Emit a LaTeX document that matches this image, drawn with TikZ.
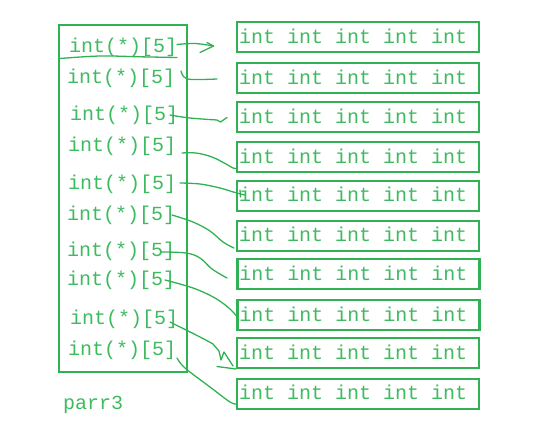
\documentclass[tikz,border=0pt]{standalone}
\usepackage{fontspec}
\setmonofont{Liberation Mono}
\definecolor{linegreen}{RGB}{48,178,84}
\definecolor{textgreen}{RGB}{62,186,96}
\newcommand\fiveints{int\kern12pt int\kern12pt int\kern12pt int\kern12pt int}
\tikzset{
  mono/.style={font=\ttfamily\fontsize{20}{20}\selectfont, text=textgreen, inner sep=0pt},
  ptrtext/.style={mono, anchor=base west},
  rowbox/.style={draw=linegreen, line width=2pt, minimum width=242pt, minimum height=30pt,
     anchor=north west, mono, text width=238pt, align=left, inner xsep=2pt,
     text height=12.6pt, text depth=0pt},
  outerbox/.style={draw=linegreen, line width=2pt, anchor=north west, inner sep=0pt},
  conn/.style={draw=linegreen, line width=1.3pt, line cap=round, line join=round}
}
\begin{document}
\begin{tikzpicture}[x=1pt,y=-1pt]
\useasboundingbox (0,0) rectangle (533,429);
% left array box
\node[outerbox, minimum width=128pt, minimum height=347.5pt] (arr) at (57.5,23.5) {};
% left texts
\node[ptrtext] (p1) at (69,52) {int(*)[5]};
\node[ptrtext] (p2) at (67,83) {int(*)[5]};
\node[ptrtext] (p3) at (70,120) {int(*)[5]};
\node[ptrtext] (p4) at (68,151) {int(*)[5]};
\node[ptrtext] (p5) at (68,189.5) {int(*)[5]};
\node[ptrtext] (p6) at (67,220) {int(*)[5]};
\node[ptrtext] (p7) at (67,256) {int(*)[5]};
\node[ptrtext] (p8) at (67,285) {int(*)[5]};
\node[ptrtext] (p9) at (70,324) {int(*)[5]};
\node[ptrtext] (p10) at (68,355) {int(*)[5]};
\node[ptrtext] (name) at (63,409) {parr3};
% right row boxes
\node[rowbox] (a1) at (236,21) {\fiveints};
\node[rowbox] (a2) at (236,62) {\fiveints};
\node[rowbox] (a3) at (236,101) {\fiveints};
\node[rowbox] (a4) at (236,141) {\fiveints};
\node[rowbox] (a5) at (236,179.5) {\fiveints};
\node[rowbox] (a6) at (236,219.5) {\fiveints};
\node[rowbox, line width=2.6pt] (a7) at (236,257.5) {\fiveints};
\node[rowbox, line width=2.6pt] (a8) at (236,298.5) {\fiveints};
\node[rowbox] (a9) at (236,337) {\fiveints};
\node[rowbox] (a10) at (236,377.5) {\fiveints};
% underline of first entry
\draw[conn] plot[smooth, tension=0.6] coordinates {(60,58.5) (100,56) (140,56.8) (177,57.5)};
% hand-drawn pointers
\coordinate (s1) at (177,44.5);
\coordinate (e1) at (213.5,46);
\draw[conn] plot[smooth, tension=0.6] coordinates {(s1) (195,43.5) (e1)};
\draw[conn] (207,42.5) -- (e1) -- (200,52.5);
\coordinate (s2) at (181,71);
\coordinate (e2) at (217,79);
\draw[conn] plot[smooth, tension=0.6] coordinates {(s2) (184,77) (192,79.5) (e2)};
\coordinate (s3) at (170,115);
\coordinate (e3) at (227,117.5);
\draw[conn] plot[smooth, tension=0.6] coordinates {(s3) (190,118) (217,120)} -- (220.5,122) -- (e3);
\coordinate (s4) at (182,153);
\coordinate (e4) at (237,168.5);
\draw[conn] plot[smooth, tension=0.6] coordinates {(s4) (196,153) (212,157) (226,164) (233,168) (e4)};
\coordinate (s5) at (180,183);
\coordinate (e5) at (245,195);
\draw[conn] plot[smooth, tension=0.6] coordinates {(s5) (200,184) (220,188) (235,192.5) (e5)};
\draw[conn] (240,190) -- (240.5,197);
\coordinate (s6) at (172,215);
\draw[conn] plot[smooth, tension=0.6] coordinates {(s6) (193,222) (210,231) (223,242) (234,248)};
\coordinate (s7) at (161,252);
\coordinate (e7) at (227,278);
\draw[conn] plot[smooth, tension=0.6] coordinates {(s7) (186,253) (200,258) (212,269) (e7)};
\coordinate (s8) at (165,280);
\coordinate (e8) at (238,318);
\draw[conn] plot[smooth, tension=0.6] coordinates {(s8) (193,288) (215,298) (230,309) (e8)};
\coordinate (s9) at (170,322);
\draw[conn] plot[smooth, tension=0.6] coordinates {(s9) (200,337) (213,344)} -- (219,351) -- (221,360) -- (224,352) -- (233,366);
\draw[conn] (217,366.5) -- (a9.south west);
\coordinate (s10) at (177,358);
\draw[conn] plot[smooth, tension=0.6] coordinates {(s10) (185,368) (210,387) (230,402) (237,404)};
\end{tikzpicture}
\end{document}
